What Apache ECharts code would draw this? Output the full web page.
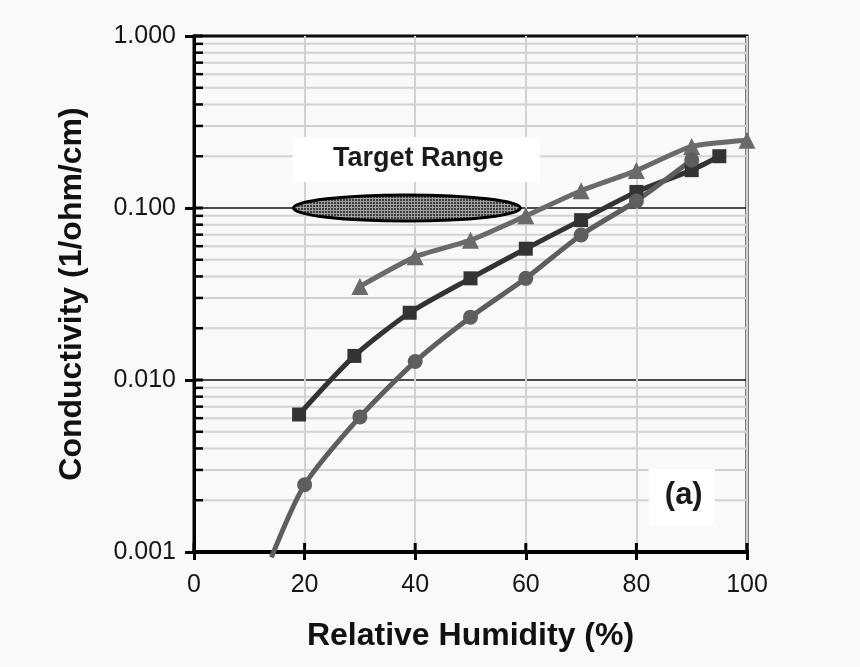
<!DOCTYPE html>
<html><head><meta charset="utf-8">
<script src="https://cdn.jsdelivr.net/npm/echarts@6/dist/echarts.min.js"></script>
<style>html,body{margin:0;padding:0;background:#f9f9f9;}#c{width:860px;height:667px;}</style>
</head><body><div id="c"></div>
<script>
// ---- data ----
const humidityTicks = [0, 20, 40, 60, 80, 100];
const conductivityTicks = [0.001, 0.01, 0.1, 1];
const conductivityMinor = [0.002,0.003,0.004,0.005,0.006,0.007,0.008,0.009,
                           0.02,0.03,0.04,0.05,0.06,0.07,0.08,0.09,
                           0.2,0.3,0.4,0.5,0.6,0.7,0.8,0.9];
const triangleSeries = [[30,0.035],[40,0.052],[50,0.065],[60,0.090],[70,0.126],[80,0.165],[90,0.228],[100,0.248]];
const squareSeries = [[19,0.0063],[29,0.0138],[39,0.0246],[50,0.039],[60,0.058],[70,0.085],[80,0.124],[90,0.166],[95,0.200]];
const circleSeries = [[14,0.00093],[20,0.00246],[30,0.0061],[40,0.0128],[50,0.0232],[60,0.039],[70,0.0697],[80,0.110],[90,0.190]];
const targetRangeHumidity = [18, 59];
const targetRangeConductivity = [0.084, 0.119];
const annotationTexts = ['Target Range', '(a)'];
const annotationAnchors = [[40.2, 0.1914], [88.2, 0.00209]];

// ---- chart ----
const FONT = 'Liberation Sans, Arial, Helvetica, sans-serif';
const yMin = 0.001, yMax = 1;

const pc = document.createElement('canvas');
pc.width = 3; pc.height = 3;
const g = pc.getContext('2d');
g.fillStyle = '#3c3c3c'; g.fillRect(0,0,3,3);
g.fillStyle = '#a0a0a0'; g.fillRect(0,0,3,1); g.fillRect(0,0,1,3);

const chart = echarts.init(document.getElementById('c'), null, {renderer:'canvas'});

function gridRect(params){ return params.coordSys; }

const boxSizes = [[247,45],[66,56]];
const boxFonts = [[27,'bold'],[31,'bold']];

chart.setOption({
  backgroundColor: '#f9f9f9',
  animation: false,
  grid: {left:194, right:113, top:36, bottom:115, show:true, borderColor:'#000', borderWidth:3, backgroundColor:'transparent'},
  xAxis: {
    type:'value', min:0, max:100, interval:20,
    name:'Relative Humidity (%)', nameLocation:'middle', nameGap:68,
    nameTextStyle:{fontFamily:FONT, fontSize:32, fontWeight:'bold', color:'#111'},
    axisLine:{show:true, onZero:false, lineStyle:{color:'#000', width:4}},
    axisTick:{show:true, length:8, lineStyle:{color:'#000', width:3}},
    axisLabel:{fontFamily:FONT, fontSize:25, color:'#161616', margin:21,
      formatter: v => humidityTicks.includes(v) ? String(v) : ''},
    splitLine:{show:true, lineStyle:{color:'#d2d2d2', width:2}}
  },
  yAxis: {
    type:'log', logBase:10, min:yMin, max:yMax,
    name:'Conductivity (1/ohm/cm)', nameLocation:'middle', nameGap:106,
    nameTextStyle:{fontFamily:FONT, fontSize:32, fontWeight:'bold', color:'#111'},
    axisLine:{show:true, onZero:false, lineStyle:{color:'#000', width:3}},
    axisTick:{show:true, length:9, lineStyle:{color:'#000', width:3}},
    axisLabel:{fontFamily:FONT, fontSize:25, color:'#161616', margin:18,
      formatter: v => { const t = conductivityTicks.find(c => Math.abs(c - v) / c < 1e-6); return t !== undefined ? t.toFixed(3) : ''; }},
    splitLine:{show:true, lineStyle:{color:'#111', width:1.5}}
  },
  series: [
    { // minor horizontal gridlines
      type:'custom', z:1, silent:true, clip:false,
      data: conductivityMinor.map(v => [0, v]),
      renderItem(params, api){
        const cs = gridRect(params);
        const y = api.coord([0, api.value(1)])[1];
        return {type:'line', shape:{x1:cs.x, y1:y, x2:cs.x+cs.width, y2:y}, style:{stroke:'#d2d2d2', lineWidth:2}};
      }
    },
    { // target range ellipse
      type:'custom', z:2, silent:true,
      data: [[targetRangeHumidity[0], targetRangeConductivity[1], targetRangeHumidity[1], targetRangeConductivity[0]]],
      renderItem(params, api){
        const p1 = api.coord([api.value(0), api.value(1)]);
        const p2 = api.coord([api.value(2), api.value(3)]);
        return {type:'ellipse', shape:{cx:(p1[0]+p2[0])/2, cy:(p1[1]+p2[1])/2, rx:(p2[0]-p1[0])/2, ry:(p2[1]-p1[1])/2},
          style:{fill:{image:pc, repeat:'repeat'}, stroke:'#000', lineWidth:3}};
      }
    },
    { // annotation boxes
      type:'custom', z:2, silent:true,
      data: annotationAnchors.map(a => [a[0], a[1]]),
      renderItem(params, api){
        const i = params.dataIndex;
        const p = api.coord([api.value(0), api.value(1)]);
        const [w,h] = boxSizes[i];
        return {type:'group', children:[
          {type:'rect', shape:{x:p[0]-w/2, y:p[1]-h/2, width:w, height:h}, style:{fill:'#ffffff'}},
          {type:'text', x:p[0]+2, y:p[1]-1, style:{text:annotationTexts[i], fontFamily:FONT, fontSize:boxFonts[i][0], fontWeight:boxFonts[i][1], fill:'#1a1a1a', align:'center', verticalAlign:'middle'}}
        ]};
      }
    },
    {
      name:'triangles', type:'line', z:3, data: triangleSeries, smooth:0.2,
      symbol:'triangle', symbolSize:17, lineStyle:{width:5, color:'#6a6a6a'}, itemStyle:{color:'#6a6a6a'}
    },
    {
      name:'squares', type:'line', z:3, data: squareSeries, smooth:0.25,
      symbol:'rect', symbolSize:14, lineStyle:{width:5, color:'#333333'}, itemStyle:{color:'#333333'}
    },
    {
      name:'circles', type:'line', z:3, clip:false, smooth:0.25,
      data: circleSeries.map(p => p[1] < yMin ? {value:p, symbol:'none'} : p),
      symbol:'circle', symbolSize:15, lineStyle:{width:5, color:'#5e5e5e'}, itemStyle:{color:'#5e5e5e'}
    },
    { // inner ticks: y minor + y major + x major
      type:'custom', z:4, silent:true, clip:false,
      data: conductivityMinor.map(v => [0, v, 0]).concat(conductivityTicks.map(v => [0, v, 1])).concat(humidityTicks.map(v => [v, yMin, 2])),
      renderItem(params, api){
        const kind = api.value(2);
        const p = api.coord([api.value(0), api.value(1)]);
        const cs = gridRect(params);
        if (kind === 2) {
          return {type:'line', shape:{x1:p[0], y1:cs.y+cs.height, x2:p[0], y2:cs.y+cs.height-9}, style:{stroke:'#000', lineWidth:3}};
        }
        return {type:'line', shape:{x1:cs.x, y1:p[1], x2:cs.x+9, y2:p[1]}, style:{stroke:'#000', lineWidth:kind===1?3:2.5}};
      }
    }
  ]
});
</script></body></html>
